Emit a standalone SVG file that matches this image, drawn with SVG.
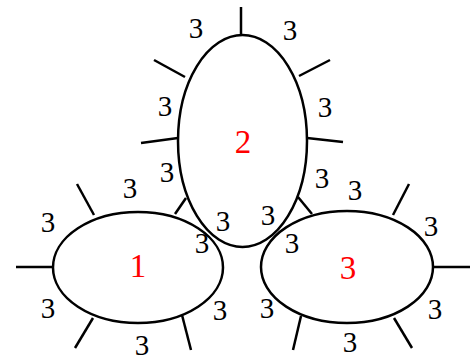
<svg xmlns="http://www.w3.org/2000/svg" width="475" height="360" viewBox="0 0 475 360">
<style>
.n{fill:none;stroke:#000;stroke-width:2.5}
.t{stroke:#000;stroke-width:2.5;fill:none}
.l{font-family:"Liberation Serif","Times New Roman",serif;font-size:29px;fill:#000;text-anchor:middle}
.r{font-family:"Liberation Serif","Times New Roman",serif;font-size:33px;fill:#f00;text-anchor:middle}
</style>
<rect width="475" height="360" fill="#fff"/>
<g id="connectors">
<line class="t" x1="241" y1="7" x2="241" y2="35"/>
<line class="t" x1="154" y1="60" x2="185" y2="77"/>
<line class="t" x1="299" y1="76" x2="330" y2="60"/>
<line class="t" x1="141" y1="143" x2="178" y2="138"/>
<line class="t" x1="307" y1="138" x2="343" y2="142"/>
<line class="t" x1="175" y1="214" x2="186" y2="198"/>
<line class="t" x1="298" y1="197" x2="312" y2="214"/>
<line class="t" x1="16" y1="267" x2="53" y2="267"/>
<line class="t" x1="77" y1="184" x2="94" y2="215"/>
<line class="t" x1="93" y1="318" x2="75" y2="348"/>
<line class="t" x1="182" y1="315" x2="191" y2="350"/>
<line class="t" x1="434" y1="267" x2="470" y2="267"/>
<line class="t" x1="393" y1="215" x2="409" y2="184"/>
<line class="t" x1="394" y1="318" x2="412" y2="348"/>
<line class="t" x1="301" y1="316" x2="293" y2="350"/>
</g>
<g id="node2">
<ellipse class="n" cx="242.5" cy="141" rx="64.5" ry="106"/>
<text class="r" x="243" y="153">2</text>
</g>
<g id="node1">
<ellipse class="n" cx="138" cy="267.5" rx="85" ry="55.5"/>
<text class="r" x="138" y="277">1</text>
</g>
<g id="node3">
<ellipse class="n" cx="347" cy="267" rx="86" ry="56"/>
<text class="r" x="348" y="279">3</text>
</g>
<g id="labels">
<text class="l" x="196" y="38">3</text>
<text class="l" x="290" y="40">3</text>
<text class="l" x="165" y="116">3</text>
<text class="l" x="325" y="117">3</text>
<text class="l" x="167" y="182">3</text>
<text class="l" x="322" y="188">3</text>
<text class="l" x="223" y="231">3</text>
<text class="l" x="268" y="225">3</text>
<text class="l" x="202" y="253">3</text>
<text class="l" x="130" y="198">3</text>
<text class="l" x="48" y="232">3</text>
<text class="l" x="48" y="318">3</text>
<text class="l" x="142" y="355">3</text>
<text class="l" x="220" y="320">3</text>
<text class="l" x="355" y="200">3</text>
<text class="l" x="292" y="253">3</text>
<text class="l" x="431" y="236">3</text>
<text class="l" x="435" y="319">3</text>
<text class="l" x="267" y="318">3</text>
<text class="l" x="350" y="352">3</text>
</g>
</svg>
